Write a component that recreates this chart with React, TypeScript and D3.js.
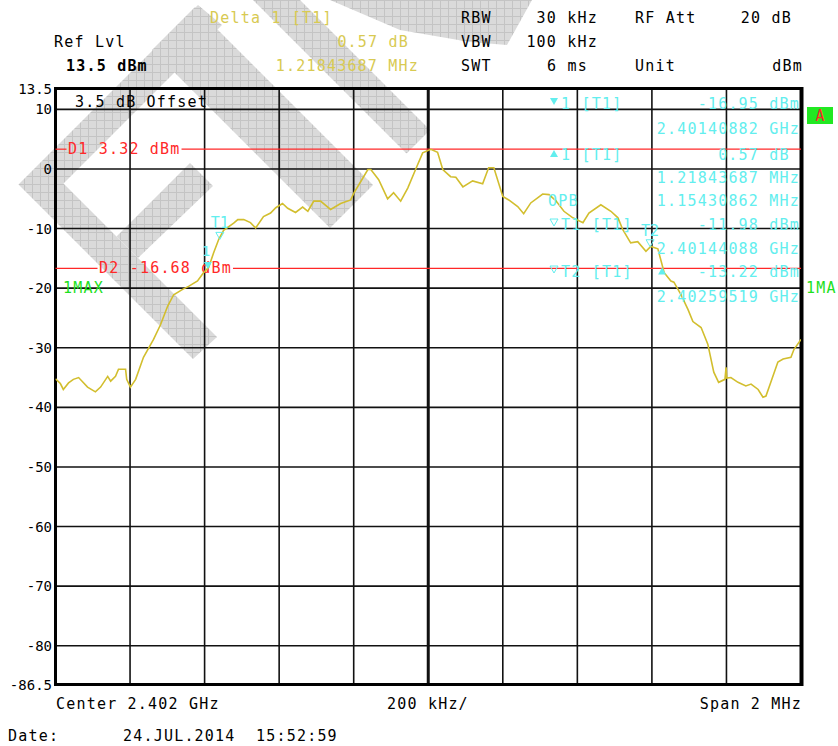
import React from 'react';
import * as d3 from 'd3';

const W = 838;
const H = 746;
const MONO = "'DejaVu Sans Mono', monospace";

// Amplitude axis
const refLevel = 13.5;
const bottomLevel = -86.5;
const yTicks = [10, 0, -10, -20, -30, -40, -50, -60, -70, -80];
const yTickLabels = ['10', '0', '-10', '-20', '-30', '-40', '-50', '-60', '-70', '-80'];

// Frequency axis (GHz)
const startGHz = 2.401;
const stopGHz = 2.403;
const divisions = 10;

// Trace: offset from start frequency (kHz) and level (dBm)
const traceOffsetKHz = [
  0, 13, 21, 35, 48, 62, 86, 107, 121, 140, 148, 161, 169, 188, 191, 201, 215, 236, 263, 282,
  301, 317, 341, 357, 381, 397, 411, 424, 438, 451, 478, 489, 505, 523, 537, 558, 577, 591, 609, 623,
  644, 663, 677, 693, 711, 738, 765, 792, 800, 819, 838, 846, 867, 891, 907, 926, 945, 966, 985, 1007,
  1025, 1039, 1060, 1074, 1093, 1119, 1146, 1162, 1176, 1200, 1216, 1240, 1256, 1275, 1307, 1324, 1342, 1364, 1388, 1415,
  1431, 1463, 1490, 1509, 1522, 1543, 1562, 1584, 1597, 1616, 1633, 1651, 1659, 1678, 1697, 1710, 1732, 1750, 1766, 1779,
  1796, 1799, 1801, 1812, 1831, 1852, 1866, 1885, 1898, 1906, 1919, 1938, 1952, 1973, 1981, 2000,
];
const traceLevel = [
  -35.2, -36.0, -37.0, -35.9, -35.3, -35.0, -36.6, -37.4, -36.6, -34.8, -35.6, -34.8, -33.6, -33.6, -35.3, -36.6, -35.3, -31.6, -28.6, -26.1,
  -23.0, -21.1, -20.2, -19.7, -18.8, -17.4, -16.5, -14.1, -11.8, -10.3, -9.1, -8.5, -8.5, -9.0, -9.9, -8.0, -7.4, -6.5, -5.8, -6.6,
  -7.3, -6.4, -7.1, -5.4, -5.4, -6.8, -5.8, -5.2, -4.1, -2.1, -0.1, -0.1, -1.8, -5.0, -4.0, -5.4, -3.2, -0.1, 2.7, 3.3,
  2.8, -0.1, -1.3, -1.4, -3.0, -2.0, -2.5, 0.2, 0.2, -4.6, -5.2, -6.3, -7.5, -5.7, -4.2, -4.3, -5.3, -7.1, -8.2, -9.0,
  -7.4, -6.0, -7.1, -8.2, -10.2, -12.4, -12.2, -13.8, -13.0, -13.4, -17.4, -18.8, -19.0, -21.1, -23.6, -25.6, -26.6, -29.4, -34.1, -35.8,
  -35.3, -33.3, -35.1, -35.0, -35.8, -36.4, -36.1, -37.0, -38.3, -38.1, -35.8, -32.4, -31.9, -31.6, -30.3, -28.6,
];

// Display lines
const displayLineNames = ['D1', 'D2'];
const displayLineLevels = [3.32, -16.68];
const displayLineTexts = ['D1 3.32 dBm', 'D2 -16.68 dBm'];

// Markers
const markerNames = ['1', 'T1', 'T2', 'D'];
const markerFreqGHz = [2.40140882, 2.40144088, 2.40259519, 2.40140882 + 0.00121843687];
const markerLevels = [-16.95, -11.98, -13.22, -16.95 + 0.57];
const markerKinds = ['filledDown', 'openDown', 'openDown', 'filledUp'];

const gold = '#d8ca52';
const cyan = '#62eeee';
const red = '#ff2828';
const green = '#1ee01e';

// Marker info rows (cyan)
const infoRows = [
  { sym: 'filledDown', label: '1 [T1]', value: '-16.95 dBm', y: 104 },
  { sym: '', label: '', value: '2.40140882 GHz', y: 129 },
  { sym: 'filledUp', label: '1 [T1]', value: '0.57 dB ', y: 155 },
  { sym: '', label: '', value: '1.21843687 MHz', y: 178 },
  { sym: '', label: 'OPB', value: '1.15430862 MHz', y: 201 },
  { sym: 'openDown', label: 'T1 [T1]', value: '-11.98 dBm', y: 225 },
  { sym: '', label: '', value: '2.40144088 GHz', y: 249 },
  { sym: 'openDown', label: 'T2 [T1]', value: '-13.22 dBm', y: 272 },
  { sym: '', label: '', value: '2.40259519 GHz', y: 297 },
];

// Watermark shapes (decoration)
const watermark: [number, number][][] = [
  [[198, 5], [222, 25], [63.5, 183.5], [217, 337], [193, 359], [18.5, 184.5]],
  [[190, 163], [213, 186], [138, 258], [116.5, 236.5]],
  [[152, 50], [195, 7], [373, 185], [330, 228]],
  [[253, 0], [300, 0], [430, 130], [406.5, 153.5]],
  [[330, 0], [532, 0], [507, 45], [470, 42], [400, 30]],
];

function Tri({ kind, cx, cy, color }: { kind: string; cx: number; cy: number; color: string }) {
  const s = 4;
  if (kind === 'filledDown') {
    return <path d={`M${cx - s},${cy - 7}L${cx + s},${cy - 7}L${cx},${cy}Z`} fill={color} />;
  }
  if (kind === 'openDown') {
    return <path d={`M${cx - s},${cy - 7}L${cx + s},${cy - 7}L${cx},${cy}Z`} fill="none" stroke={color} strokeWidth={1} />;
  }
  return <path d={`M${cx - s},${cy + 7}L${cx + s},${cy + 7}L${cx},${cy}Z`} fill={color} />;
}

export default function App() {
  const left = 55.5;
  const right = 801;
  const top = 88.5;
  const bottom = 684.5;
  const x = d3.scaleLinear().domain([startGHz, stopGHz]).range([left, right]);
  const y = d3.scaleLinear().domain([bottomLevel, refLevel]).range([bottom, top]);

  const pts: [number, number][] = traceOffsetKHz.map((k, i) => [x(startGHz + k / 1e6), y(traceLevel[i])]);
  const tracePath = d3.line()(pts) || '';

  const vGrid = d3.range(divisions + 1).map((i) => startGHz + (i * (stopGHz - startGHz)) / divisions);
  const pitch = 10.23;
  const font = { fontFamily: MONO, fontSize: 15, letterSpacing: 1.2, style: { whiteSpace: 'pre' } } as const;

  const dlTextX = [left + 12.5, left + 43.5];

  return (
    <svg width={W} height={H} style={{ position: 'absolute', left: 0, top: 0, background: '#fff' }}>
      <defs>
        <pattern id="hatch" width={8} height={8} patternUnits="userSpaceOnUse">
          <rect width={8} height={8} fill="#dadada" />
          <path d="M0,0.5H8M0.5,0V8" stroke="#c4c4c4" strokeWidth={1} />
        </pattern>
        <clipPath id="offClip">
          <rect x={0} y={90} width={206} height={30} />
        </clipPath>
        <clipPath id="plotClip">
          <rect x={left} y={top} width={right - left} height={bottom - top} />
        </clipPath>
      </defs>
      <rect width={W} height={H} fill="#fff" />
      {watermark.map((p, i) => (
        <polygon key={i} points={p.map((q) => q.join(',')).join(' ')} fill="url(#hatch)" />
      ))}

      {/* grid */}
      {yTicks.map((v) => (
        <line key={'h' + v} x1={left} x2={right} y1={y(v)} y2={y(v)} stroke="#111" strokeWidth={1.6} />
      ))}
      {vGrid.map((f, i) => (
        <line key={'v' + i} x1={x(f)} x2={x(f)} y1={top} y2={bottom} stroke="#111" strokeWidth={i === 5 ? 3 : 1.6} />
      ))}
      <rect x={left} y={top} width={right - left} height={bottom - top} fill="none" stroke="#000" strokeWidth={3} />
      <line x1={right + 1} x2={right + 1} y1={top - 1.5} y2={bottom + 1.5} stroke="#000" strokeWidth={3} />

      {/* y tick labels */}
      <text x={52} y={top} textAnchor="end" dominantBaseline="central" fontFamily={MONO} fontSize={14}>13.5</text>
      {yTicks.map((v, i) => (
        <text key={'t' + v} x={52} y={y(v)} textAnchor="end" dominantBaseline="central" fontFamily={MONO} fontSize={14}>
          {yTickLabels[i]}
        </text>
      ))}
      <text x={52} y={bottom} textAnchor="end" dominantBaseline="central" fontFamily={MONO} fontSize={14}>-86.5</text>

      {/* offset text */}
      <g clipPath="url(#offClip)">
        <text x={75} y={102} dominantBaseline="central" {...font} fill="#000">3.5 dB Offset</text>
      </g>

      {/* display lines */}
      {displayLineLevels.map((lv, i) => {
        const tx = dlTextX[i];
        const tw = displayLineTexts[i].length * pitch;
        return (
          <g key={displayLineNames[i]}>
            <line x1={left} x2={tx - 1.5} y1={y(lv)} y2={y(lv)} stroke={red} strokeWidth={1.2} />
            <line x1={tx + tw + 1} x2={right} y1={y(lv)} y2={y(lv)} stroke={red} strokeWidth={1.2} />
            <text x={tx} y={y(lv)} dominantBaseline="central" {...font} fill={red}>{displayLineTexts[i]}</text>
          </g>
        );
      })}

      {/* trace */}
      <path d={tracePath} fill="none" stroke="#d2be2e" strokeWidth={1.6} clipPath="url(#plotClip)" />

      {/* markers on trace */}
      {markerFreqGHz.map((f, i) => {
        const mx = x(f);
        const my = y(markerLevels[i]);
        const kind = markerKinds[i];
        return (
          <g key={'m' + i}>
            <Tri kind={kind} cx={mx} cy={kind === 'filledUp' ? my + 1 : my - 1} color={cyan} />
            {kind !== 'filledUp' && (
              <text x={kind === 'filledDown' ? mx - 2 : mx} y={my - (kind === 'filledDown' ? 19 : 17)} textAnchor="middle" dominantBaseline="central"
                fontFamily={MONO} fontSize={kind === 'filledDown' ? 14 : 15} fill={cyan}>
                {markerNames[i]}
              </text>
            )}
          </g>
        );
      })}

      {/* marker info block */}
      {infoRows.map((r, i) => (
        <g key={'r' + i}>
          {r.sym && <Tri kind={r.sym} cx={554} cy={r.sym === 'filledUp' ? r.y - 5 : r.y + 1} color={cyan} />}
          {r.label && (
            <text x={r.label === 'OPB' ? 548 : 561} y={r.y} dominantBaseline="central" {...font} fill={cyan}>{r.label}</text>
          )}
          <text x={800} y={r.y} textAnchor="end" dominantBaseline="central" {...font} fill={cyan}>{r.value}</text>
        </g>
      ))}

      {/* trace labels */}
      <text x={63} y={y(-20)} dominantBaseline="central" {...font} fill={green}>1MAX</text>
      <text x={806} y={y(-20)} dominantBaseline="central" {...font} fill={green}>1MA</text>
      <rect x={807} y={107} width={26} height={17} fill="#22e822" />
      <text x={820} y={116} textAnchor="middle" dominantBaseline="central" fontFamily={MONO} fontSize={15} fill={red}>A</text>

      {/* header */}
      <text x={210} y={18} dominantBaseline="central" {...font} fill={gold}>Delta 1 [T1]</text>
      <text x={409} y={42} textAnchor="end" dominantBaseline="central" {...font} fill={gold}>0.57 dB</text>
      <text x={419} y={66} textAnchor="end" dominantBaseline="central" {...font} fill={gold}>1.21843687 MHz</text>
      <text x={54} y={42} dominantBaseline="central" {...font} fill="#000">Ref Lvl</text>
      <text x={66} y={66} dominantBaseline="central" {...font} fontWeight="bold" fill="#000">13.5 dBm</text>

      <text x={461} y={18} dominantBaseline="central" {...font}>RBW</text>
      <text x={598} y={18} textAnchor="end" dominantBaseline="central" {...font}>30 kHz</text>
      <text x={635} y={18} dominantBaseline="central" {...font}>RF Att</text>
      <text x={792} y={18} textAnchor="end" dominantBaseline="central" {...font}>20 dB</text>
      <text x={461} y={42} dominantBaseline="central" {...font}>VBW</text>
      <text x={598} y={42} textAnchor="end" dominantBaseline="central" {...font}>100 kHz</text>
      <text x={461} y={66} dominantBaseline="central" {...font}>SWT</text>
      <text x={588} y={66} textAnchor="end" dominantBaseline="central" {...font}>6 ms</text>
      <text x={635} y={66} dominantBaseline="central" {...font}>Unit</text>
      <text x={803} y={66} textAnchor="end" dominantBaseline="central" {...font}>dBm</text>

      {/* footer */}
      <text x={56} y={704} dominantBaseline="central" {...font}>Center 2.402 GHz</text>
      <text x={387} y={704} dominantBaseline="central" {...font}>200 kHz/</text>
      <text x={802} y={704} textAnchor="end" dominantBaseline="central" {...font}>Span 2 MHz</text>
      <text x={8} y={736} dominantBaseline="central" {...font}>Date:</text>
      <text x={123} y={736} dominantBaseline="central" {...font}>24.JUL.2014  15:52:59</text>
    </svg>
  );
}
